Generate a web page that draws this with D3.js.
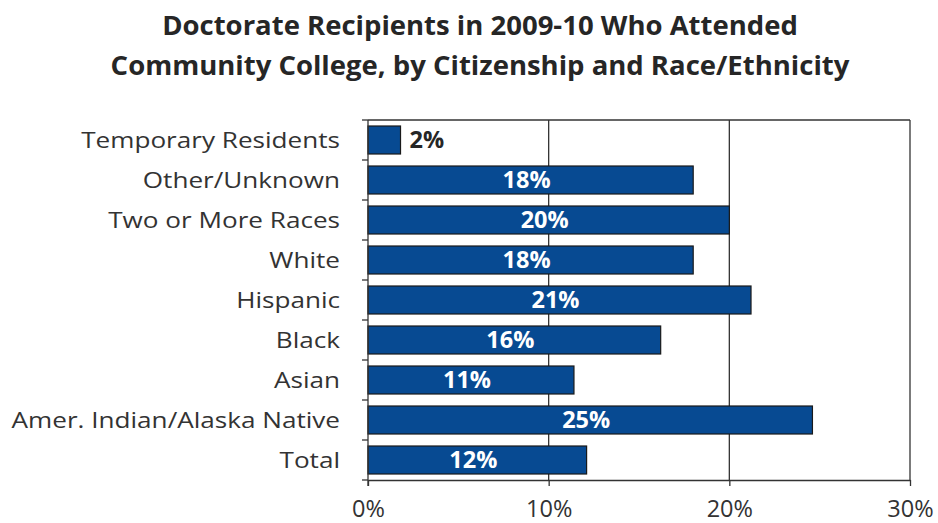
<!DOCTYPE html>
<html>
<head>
<meta charset="utf-8">
<script src="https://cdn.jsdelivr.net/npm/d3@7"></script>
<style>
  body { margin: 0; background: #fff; }
  svg { display: block; }
  text { font-family: "Open Sans", Lato, sans-serif; }
</style>
</head>
<body>
<svg id="chart" width="938" height="523"></svg>
<script>
// Share of 2009-10 doctorate recipients who attended community college
const categories = [
  "Temporary Residents", "Other/Unknown", "Two or More Races", "White",
  "Hispanic", "Black", "Asian", "Amer. Indian/Alaska Native", "Total"
];
const values = [1.8, 18.0, 20.0, 18.0, 21.2, 16.2, 11.4, 24.6, 12.1];
const xTicks = [0, 10, 20, 30];
const titleLines = [
  "Doctorate Recipients in 2009-10 Who Attended",
  "Community College, by Citizenship and Race/Ethnicity"
];

const svg = d3.select("#chart");
const margin = { top: 120, right: 28, bottom: 43, left: 368 };
const W = 938, H = 523;
const innerW = W - margin.left - margin.right;
const innerH = H - margin.top - margin.bottom;

const x = d3.scaleLinear().domain([0, 30]).range([0, innerW]);
const y = d3.scaleBand().domain(categories).range([0, innerH]).paddingInner(0.3).paddingOuter(0.15);

// Title
svg.append("g").selectAll("text").data(titleLines).join("text")
  .attr("x", 480).attr("y", (d, i) => 35 + i * 40)
  .attr("text-anchor", "middle")
  .attr("font-size", 27.5).attr("font-weight", "bold").attr("fill", "#262626")
  .text(d => d);

const g = svg.append("g").attr("transform", `translate(${margin.left},${margin.top})`);

// Vertical gridlines
g.append("g").selectAll("line").data(xTicks.slice(1)).join("line")
  .attr("x1", d => x(d)).attr("x2", d => x(d))
  .attr("y1", 0).attr("y2", innerH)
  .attr("stroke", "#333").attr("stroke-width", 1.3);

// Plot frame top line
g.append("line").attr("x1", 0).attr("x2", innerW).attr("y1", 0).attr("y2", 0)
  .attr("stroke", "#333").attr("stroke-width", 1.3);

// Bars
g.append("g").selectAll("rect").data(values).join("rect")
  .attr("x", 0)
  .attr("y", (d, i) => y(categories[i]))
  .attr("width", d => x(d))
  .attr("height", y.bandwidth())
  .attr("fill", "#074a92")
  .attr("stroke", "#1a1a1a").attr("stroke-width", 1.2);

// Value labels
const fmt = d => d3.format(".0f")(d) + "%";
g.append("g").selectAll("text").data(values).join("text")
  .attr("x", d => d < 5 ? x(d) + 9 : x(d) / 2 - 4)
  .attr("y", (d, i) => y(categories[i]) + y.bandwidth() / 2)
  .attr("dy", "0.36em")
  .attr("text-anchor", d => d < 5 ? "start" : "middle")
  .attr("font-size", 23.5).attr("font-weight", "bold")
  .attr("fill", d => d < 5 ? "#262626" : "#fff")
  .text(fmt);

// Y axis: ticks at category boundaries
const yAxis = g.append("g");
yAxis.append("line").attr("x1", 0).attr("x2", 0).attr("y1", 0).attr("y2", innerH + 6)
  .attr("stroke", "#333").attr("stroke-width", 1.3);
const boundaries = d3.range(categories.length + 1).map(i => i * innerH / categories.length);
yAxis.selectAll("line.tick").data(boundaries).join("line").attr("class", "tick")
  .attr("x1", -6).attr("x2", 0).attr("y1", d => d).attr("y2", d => d)
  .attr("stroke", "#333").attr("stroke-width", 1.3);
yAxis.selectAll("text").data(categories).join("text")
  .attr("transform", d => `translate(-28,${y(d) + y.bandwidth() / 2}) scale(1.215,1)`)
  .attr("dy", "0.36em")
  .attr("text-anchor", "end")
  .attr("font-size", 21.5).attr("fill", "#333")
  .text(d => d);

// X axis
const xAxis = g.append("g").attr("transform", `translate(0,${innerH})`)
  .call(d3.axisBottom(x).tickValues(xTicks).tickFormat(d => d + "%").tickSize(6).tickPadding(14).tickSizeOuter(0));
xAxis.select(".domain").attr("stroke", "#333").attr("stroke-width", 1.3);
xAxis.selectAll(".tick line").attr("stroke", "#333").attr("stroke-width", 1.3);
xAxis.selectAll(".tick text").attr("font-size", 23.5).attr("fill", "#333")
  .attr("font-family", "'Open Sans', Lato, sans-serif");
</script>
</body>
</html>
